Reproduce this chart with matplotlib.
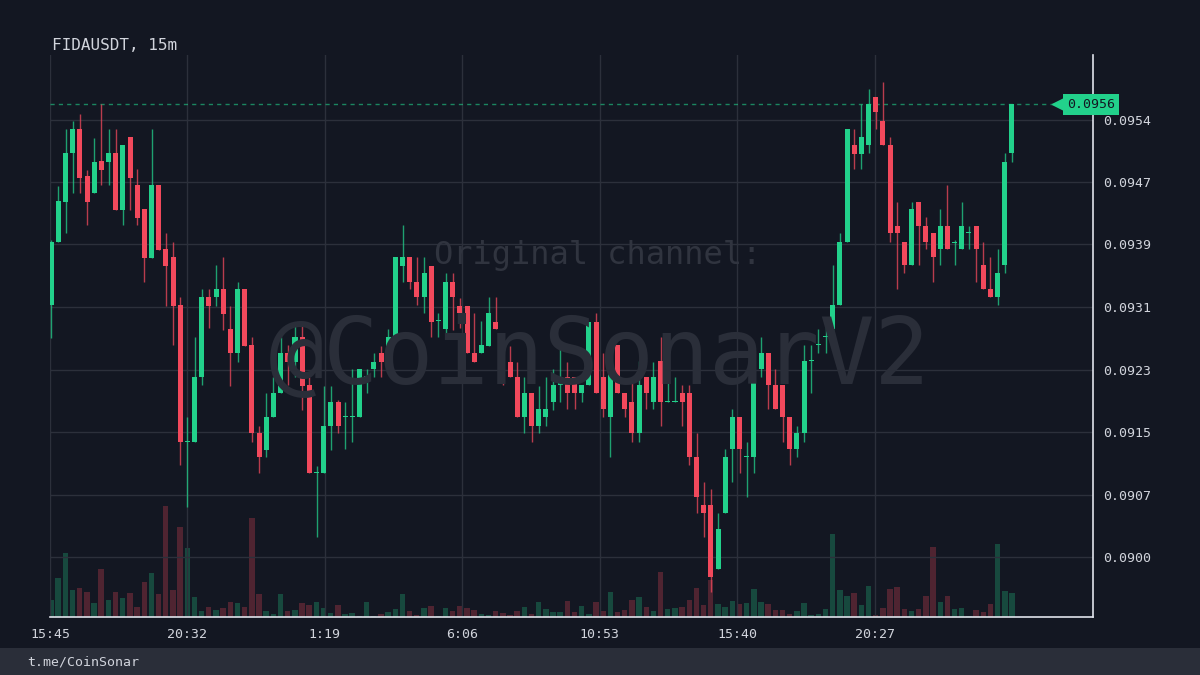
import numpy as np
import matplotlib
matplotlib.use('Agg')
import matplotlib.pyplot as plt
from matplotlib.colors import to_rgba
from matplotlib.transforms import blended_transform_factory

plt.rcParams['font.family'] = ['DejaVu Sans Mono']

symbol = 'FIDAUSDT, 15m'

opens = [0.09311, 0.09389, 0.09439, 0.09499, 0.09529, 0.09470, 0.09449, 0.09489, 0.09488, 0.09499,
         0.09429, 0.09519, 0.09460, 0.09430, 0.09369, 0.09460, 0.09381, 0.09371, 0.09311, 0.09142,
         0.09142, 0.09222, 0.09321, 0.09321, 0.09331, 0.09282, 0.09252, 0.09331, 0.09262, 0.09153,
         0.09132, 0.09173, 0.09203, 0.09252, 0.09241, 0.09272, 0.09213, 0.09104, 0.09104, 0.09162,
         0.09192, 0.09173, 0.09173, 0.09173, 0.09222, 0.09232, 0.09252, 0.09232, 0.09272, 0.09360,
         0.09371, 0.09340, 0.09321, 0.09360, 0.09292, 0.09282, 0.09340, 0.09310, 0.09310, 0.09252,
         0.09252, 0.09261, 0.09290, 0.09272, 0.09241, 0.09222, 0.09173, 0.09203, 0.09162, 0.09173,
         0.09192, 0.09213, 0.09222, 0.09222, 0.09203, 0.09213, 0.09290, 0.09222, 0.09173, 0.09262,
         0.09203, 0.09192, 0.09153, 0.09222, 0.09192, 0.09242, 0.09192, 0.09192, 0.09203, 0.09203,
         0.09124, 0.09064, 0.09064, 0.08985, 0.09054, 0.09133, 0.09173, 0.09124, 0.09124, 0.09232,
         0.09252, 0.09213, 0.09213, 0.09173, 0.09133, 0.09153, 0.09242, 0.09262, 0.09272, 0.09282,
         0.09311, 0.09389, 0.09509, 0.09498, 0.09509, 0.09568, 0.09539, 0.09509, 0.09409, 0.09389,
         0.09361, 0.09439, 0.09409, 0.09400, 0.09381, 0.09409, 0.09388, 0.09381, 0.09400, 0.09409,
         0.09361, 0.09331, 0.09321, 0.09361, 0.09499]

highs = [0.09391, 0.09458, 0.09529, 0.09538, 0.09547, 0.09478, 0.09518, 0.09559, 0.09529, 0.09529,
         0.09509, 0.09519, 0.09479, 0.09430, 0.09529, 0.09460, 0.09400, 0.09389, 0.09321, 0.09173,
         0.09272, 0.09331, 0.09331, 0.09361, 0.09371, 0.09310, 0.09340, 0.09331, 0.09272, 0.09162,
         0.09203, 0.09222, 0.09272, 0.09262, 0.09290, 0.09290, 0.09222, 0.09112, 0.09211, 0.09211,
         0.09194, 0.09192, 0.09232, 0.09232, 0.09232, 0.09252, 0.09261, 0.09282, 0.09371, 0.09410,
         0.09371, 0.09371, 0.09371, 0.09360, 0.09302, 0.09351, 0.09351, 0.09320, 0.09310, 0.09302,
         0.09292, 0.09321, 0.09321, 0.09272, 0.09261, 0.09241, 0.09222, 0.09203, 0.09211, 0.09222,
         0.09232, 0.09262, 0.09241, 0.09222, 0.09213, 0.09290, 0.09302, 0.09252, 0.09242, 0.09262,
         0.09203, 0.09222, 0.09242, 0.09222, 0.09241, 0.09272, 0.09222, 0.09222, 0.09213, 0.09213,
         0.09153, 0.09093, 0.09084, 0.09054, 0.09133, 0.09183, 0.09173, 0.09142, 0.09242, 0.09272,
         0.09252, 0.09232, 0.09213, 0.09173, 0.09162, 0.09262, 0.09262, 0.09282, 0.09290, 0.09361,
         0.09400, 0.09529, 0.09529, 0.09559, 0.09578, 0.09568, 0.09587, 0.09519, 0.09439, 0.09389,
         0.09439, 0.09439, 0.09420, 0.09400, 0.09430, 0.09460, 0.09391, 0.09439, 0.09409, 0.09409,
         0.09389, 0.09371, 0.09381, 0.09499, 0.09559]

lows = [0.09271, 0.09389, 0.09400, 0.09450, 0.09450, 0.09410, 0.09449, 0.09460, 0.09460, 0.09429,
        0.09410, 0.09429, 0.09410, 0.09340, 0.09369, 0.09379, 0.09310, 0.09262, 0.09114, 0.09062,
        0.09142, 0.09213, 0.09283, 0.09310, 0.09281, 0.09211, 0.09241, 0.09261, 0.09142, 0.09104,
        0.09124, 0.09173, 0.09203, 0.09213, 0.09222, 0.09182, 0.09104, 0.09025, 0.09104, 0.09132,
        0.09153, 0.09133, 0.09142, 0.09173, 0.09203, 0.09222, 0.09222, 0.09232, 0.09272, 0.09340,
        0.09331, 0.09311, 0.09302, 0.09272, 0.09272, 0.09272, 0.09281, 0.09283, 0.09252, 0.09241,
        0.09252, 0.09261, 0.09282, 0.09213, 0.09222, 0.09173, 0.09153, 0.09142, 0.09153, 0.09162,
        0.09182, 0.09192, 0.09183, 0.09183, 0.09192, 0.09213, 0.09203, 0.09173, 0.09124, 0.09203,
        0.09173, 0.09142, 0.09142, 0.09183, 0.09183, 0.09162, 0.09192, 0.09192, 0.09162, 0.09114,
        0.09054, 0.09025, 0.08957, 0.08985, 0.09054, 0.09093, 0.09104, 0.09074, 0.09104, 0.09222,
        0.09183, 0.09183, 0.09142, 0.09114, 0.09124, 0.09142, 0.09203, 0.09252, 0.09252, 0.09272,
        0.09311, 0.09389, 0.09479, 0.09479, 0.09499, 0.09529, 0.09509, 0.09389, 0.09331, 0.09351,
        0.09361, 0.09361, 0.09381, 0.09340, 0.09361, 0.09381, 0.09361, 0.09381, 0.09381, 0.09340,
        0.09331, 0.09321, 0.09311, 0.09351, 0.09488]

closes = [0.09389, 0.09440, 0.09499, 0.09529, 0.09468, 0.09439, 0.09488, 0.09478, 0.09499, 0.09429,
          0.09509, 0.09468, 0.09419, 0.09369, 0.09460, 0.09379, 0.09360, 0.09310, 0.09142, 0.09143,
          0.09222, 0.09321, 0.09310, 0.09331, 0.09300, 0.09252, 0.09331, 0.09261, 0.09153, 0.09124,
          0.09173, 0.09203, 0.09252, 0.09241, 0.09272, 0.09211, 0.09104, 0.09105, 0.09162, 0.09192,
          0.09162, 0.09174, 0.09174, 0.09232, 0.09224, 0.09241, 0.09241, 0.09272, 0.09371, 0.09371,
          0.09340, 0.09321, 0.09351, 0.09290, 0.09293, 0.09340, 0.09321, 0.09302, 0.09252, 0.09241,
          0.09262, 0.09302, 0.09282, 0.09232, 0.09222, 0.09173, 0.09203, 0.09162, 0.09183, 0.09183,
          0.09213, 0.09222, 0.09203, 0.09203, 0.09213, 0.09290, 0.09203, 0.09183, 0.09242, 0.09203,
          0.09183, 0.09153, 0.09213, 0.09203, 0.09222, 0.09192, 0.09193, 0.09193, 0.09192, 0.09124,
          0.09074, 0.09054, 0.08975, 0.09035, 0.09124, 0.09173, 0.09133, 0.09125, 0.09242, 0.09252,
          0.09213, 0.09183, 0.09173, 0.09133, 0.09153, 0.09242, 0.09243, 0.09263, 0.09273, 0.09311,
          0.09389, 0.09529, 0.09498, 0.09519, 0.09559, 0.09549, 0.09509, 0.09400, 0.09400, 0.09361,
          0.09430, 0.09409, 0.09389, 0.09371, 0.09409, 0.09381, 0.09389, 0.09409, 0.09401, 0.09381,
          0.09331, 0.09321, 0.09351, 0.09488, 0.09559]

volumes = [17, 39, 64, 27, 29, 25, 14, 48, 17, 25, 19, 24, 10, 35, 44, 23, 111, 27, 90, 69,
           20, 6, 10, 7, 9, 15, 14, 10, 99, 23, 6, 3, 23, 6, 7, 14, 12, 15, 9, 4,
           12, 3, 4, 1, 15, 1, 3, 5, 8, 23, 6, 2, 9, 11, 1, 9, 6, 11, 9, 7,
           3, 2, 6, 4, 2, 6, 10, 3, 15, 8, 5, 5, 16, 5, 11, 3, 15, 6, 25, 5,
           7, 17, 20, 10, 6, 45, 8, 9, 10, 17, 29, 12, 37, 13, 10, 16, 13, 14, 28, 15,
           13, 7, 7, 3, 6, 14, 2, 3, 8, 83, 27, 21, 24, 12, 31, 2, 9, 28, 30, 8,
           6, 8, 21, 70, 15, 21, 8, 9, 1, 7, 5, 13, 73, 26, 24]

time_ticks = [-0.17, 19.0, 38.17, 57.34, 76.5, 95.67, 114.84]
time_labels = ['15:45', '20:32', '1:19', '6:06', '10:53', '15:40', '20:27']
price_ticks = [0.09000, 0.09077, 0.09154, 0.09231, 0.09309, 0.09386, 0.09463, 0.09540]
price_labels = ['0.0900', '0.0907', '0.0915', '0.0923', '0.0931', '0.0939', '0.0947', '0.0954']
last_label = '0.0956'

BG = '#131722'
UP = '#22d18b'
DOWN = '#f2495c'
GRID = '#2c303b'
TXT = '#d1d4dc'

o = np.array(opens)
h = np.array(highs)
l = np.array(lows)
c = np.array(closes)
v = np.array(volumes)
x = np.arange(len(o))
up = c >= o
cols = np.where(up, UP, DOWN)

fig = plt.figure(figsize=(12, 6.75), dpi=100, facecolor=BG)
pos = [50 / 1200, 1 - 617 / 675, 1043 / 1200, 562 / 675]
xlim = (-0.14, 145.3)

# volume + watermark underneath
axv = fig.add_axes(pos)
axv.set_facecolor(BG)
axv.bar(x, v, width=0.76, color=[to_rgba(cc, 0.27) for cc in cols], linewidth=0)
axv.set_xlim(*xlim)
axv.set_ylim(0, v.max() * 5.05)
axv.set_xticks([])
axv.set_yticks([])
for s in axv.spines.values():
    s.set_visible(False)
fig.text(0.498, 0.622, 'Original channel:', ha='center', va='center',
         fontsize=23, color='#30343f')
fig.text(0.5, 0.47, '@CoinSonarV2', ha='center', va='center',
         fontsize=66, color='#2a2e39')

ax = fig.add_axes(pos)
ax.patch.set_alpha(0)
ax.set_xlim(*xlim)
ax.set_ylim(0.08926, 0.09620)
ax.set_xticks(time_ticks, time_labels)
ax.set_yticks(price_ticks, price_labels)
ax.yaxis.tick_right()
ax.grid(True, color=GRID, linewidth=1)
ax.set_axisbelow(True)
ax.tick_params(axis='both', length=0, colors=TXT, labelsize=9.5)
ax.tick_params(axis='x', pad=8)
ax.tick_params(axis='y', pad=7)
for side in ['top', 'left']:
    ax.spines[side].set_visible(False)
for side in ['right', 'bottom']:
    ax.spines[side].set_color('#e0e3eb')
    ax.spines[side].set_linewidth(1.2)

# candles
ax.vlines(x, l, h, colors=[to_rgba(cc, 0.75) for cc in cols], linewidth=1, zorder=2)
body = np.maximum(np.abs(c - o), 0.000012)
ax.bar(x, body, bottom=np.minimum(o, c), width=0.7, color=cols, linewidth=0, zorder=3)

# last price line + tag
last = c[-1]
ax.axhline(last, color=to_rgba(UP, 0.6), linewidth=1, linestyle=(0, (3, 3)), zorder=1)
tr = blended_transform_factory(ax.transAxes, ax.transData)
ax.plot([0.9665], [last], marker='<', markersize=9, color=UP, transform=tr,
        clip_on=False, zorder=5)
ax.text(0.9985, last, last_label, transform=tr, ha='center', va='center',
        fontsize=9.5, color='#131722', clip_on=False, zorder=6,
        bbox=dict(boxstyle='square,pad=0.3', facecolor=UP, edgecolor='none'))

fig.text(52 / 1200, 1 - 46 / 675, symbol, ha='left', va='center', fontsize=11.5, color=TXT)

# footer band
fig.add_artist(plt.Rectangle((0, 0), 1, 27 / 675, transform=fig.transFigure,
                             facecolor='#2a2e39', edgecolor='none', zorder=0))
fig.text(27 / 1200, 1 - 662 / 675, 't.me/CoinSonar', ha='left', va='center',
         fontsize=9.5, color=TXT)

fig.savefig('out.png', dpi=100, facecolor=BG)
